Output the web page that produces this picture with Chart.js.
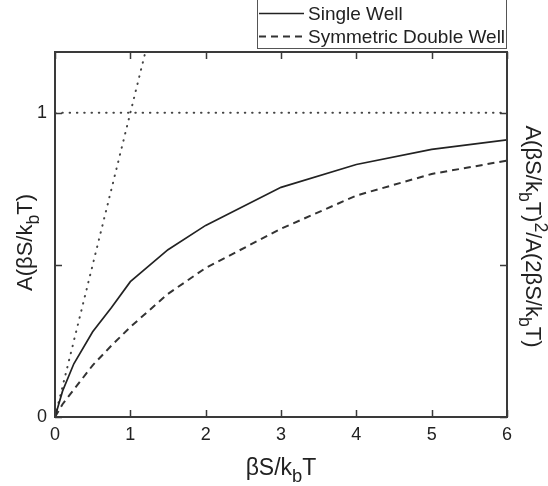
<!DOCTYPE html>
<html>
<head>
<meta charset="utf-8">
<script src="https://cdn.jsdelivr.net/npm/chart.js@4.4.1/dist/chart.umd.min.js"></script>
<style>
  html, body { margin: 0; padding: 0; background: #ffffff; }
  #wrap { width: 548px; height: 486px; }
</style>
</head>
<body>
<div id="wrap"><canvas id="c" width="548" height="486"></canvas></div>
<script>
// ---- data ----
const xValues      = [0, 0.1, 0.25, 0.5, 0.75, 1, 1.5, 2, 3, 4, 5, 6];
const singleWell   = [0, 0.085, 0.175, 0.28, 0.36, 0.445, 0.55, 0.63, 0.755, 0.83, 0.88, 0.911];
const doubleWell   = [0, 0.042, 0.09, 0.17, 0.235, 0.296, 0.405, 0.49, 0.619, 0.728, 0.799, 0.843];
const diagonalX    = [0, 1.2];
const diagonalY    = [0, 1.2];
const unityX       = [0, 6];
const unityY       = [1, 1];
const seriesLabels = ['Single Well', 'Symmetric Double Well'];
const xTicks       = [0, 1, 2, 3, 4, 5, 6];
const yTicks       = [0, 0.5, 1];
const yTickLabels  = ['0', '', '1'];
const xRange       = [0, 6];
const yRange       = [0, 1.2];

const FONT = "'Liberation Sans', Arial, sans-serif";
const INK = '#222222';

function pts(xs, ys) { return xs.map((x, i) => ({ x: x, y: ys[i] })); }

const SUB = 0.8;
function richWidth(ctx, parts, size) {
  let w = 0;
  parts.forEach(p => {
    const s = p.k ? size * SUB : size;
    ctx.font = s + 'px ' + FONT;
    w += ctx.measureText(p.t).width;
  });
  return w;
}
function drawRich(ctx, parts, size) {
  const w = richWidth(ctx, parts, size);
  let x = -w / 2;
  ctx.textBaseline = 'alphabetic';
  ctx.textAlign = 'left';
  parts.forEach(p => {
    const s = p.k ? size * SUB : size;
    ctx.font = s + 'px ' + FONT;
    let dy = 0;
    if (p.k === 'sub') dy = size * 0.3;
    if (p.k === 'sup') dy = -size * 0.42;
    ctx.fillText(p.t, x, dy);
    x += ctx.measureText(p.t).width;
  });
}

const xTitle = [{t:'\u03B2S/k'}, {t:'b', k:'sub'}, {t:'T'}];
const yTitle = [{t:'A(\u03B2S/k'}, {t:'b', k:'sub'}, {t:'T)'}];
const y2Title = [{t:'A(\u03B2S/k'}, {t:'b', k:'sub'}, {t:'T)'}, {t:'2', k:'sup'},
                 {t:'/A(2\u03B2S/k'}, {t:'b', k:'sub'}, {t:'T)'}];

const decor = {
  id: 'decor',
  afterDraw(chart) {
    const ctx = chart.ctx;
    const a = chart.chartArea;
    const xs = chart.scales.x, ys = chart.scales.y;
    ctx.save();
    // frame
    ctx.strokeStyle = '#3a3a3a';
    ctx.lineWidth = 2;
    ctx.strokeRect(a.left, a.top, a.right - a.left, a.bottom - a.top);
    // inward ticks
    ctx.lineWidth = 1.5;
    ctx.beginPath();
    xTicks.forEach(v => {
      const px = Math.round(xs.getPixelForValue(v)) + 0.5;
      ctx.moveTo(px, a.bottom); ctx.lineTo(px, a.bottom - 7);
      ctx.moveTo(px, a.top); ctx.lineTo(px, a.top + 7);
    });
    yTicks.forEach(v => {
      const py = Math.round(ys.getPixelForValue(v)) + 0.5;
      ctx.moveTo(a.left, py); ctx.lineTo(a.left + 7, py);
      ctx.moveTo(a.right, py); ctx.lineTo(a.right - 7, py);
    });
    ctx.stroke();

    // axis titles
    ctx.fillStyle = INK;
    ctx.save();
    ctx.translate((a.left + a.right) / 2, 475);
    drawRich(ctx, xTitle, 23);
    ctx.restore();

    const midY = (a.top + a.bottom) / 2;
    ctx.save();
    ctx.translate(32, midY + 8);
    ctx.rotate(-Math.PI / 2);
    drawRich(ctx, yTitle, 22);
    ctx.restore();

    ctx.save();
    ctx.translate(526, midY + 2);
    ctx.rotate(Math.PI / 2);
    drawRich(ctx, y2Title, 22);
    ctx.restore();

    // legend
    ctx.fillStyle = '#ffffff';
    ctx.fillRect(257, -1, 250, 50);
    ctx.strokeStyle = '#555555';
    ctx.lineWidth = 1;
    ctx.strokeRect(257.5, -1.5, 249, 50);
    const rows = [13.5, 36.5];
    const base = [20, 43];
    [0, 1].forEach(i => {
      const ds = chart.data.datasets[i];
      ctx.strokeStyle = ds.borderColor;
      ctx.lineWidth = ds.borderWidth;
      ctx.setLineDash(ds.borderDash || []);
      ctx.beginPath();
      ctx.moveTo(259, rows[i]); ctx.lineTo(304, rows[i]);
      ctx.stroke();
      ctx.setLineDash([]);
      ctx.fillStyle = INK;
      ctx.font = '19px ' + FONT;
      ctx.textAlign = 'left';
      ctx.textBaseline = 'alphabetic';
      ctx.fillText(ds.label, 308, base[i]);
    });
    ctx.restore();
  }
};

new Chart(document.getElementById('c'), {
  type: 'line',
  data: {
    datasets: [
      { label: seriesLabels[0], data: pts(xValues, singleWell),
        borderColor: '#222222', borderWidth: 1.7, pointRadius: 0, tension: 0, fill: false },
      { label: seriesLabels[1], data: pts(xValues, doubleWell),
        borderColor: '#333333', borderWidth: 2, borderDash: [7, 5], pointRadius: 0, tension: 0, fill: false },
      { label: 'y = x', data: pts(diagonalX, diagonalY),
        borderColor: '#444444', borderWidth: 2, borderDash: [0.5, 6.8], borderCapStyle: 'round',
        pointRadius: 0, tension: 0, fill: false },
      { label: 'y = 1', data: pts(unityX, unityY),
        borderColor: '#444444', borderWidth: 2, borderDash: [0.5, 6.8], borderCapStyle: 'round',
        pointRadius: 0, tension: 0, fill: false }
    ]
  },
  options: {
    responsive: false,
    animation: false,
    layout: { padding: 0 },
    plugins: { legend: { display: false }, tooltip: { enabled: false }, title: { display: false } },
    scales: {
      x: {
        type: 'linear', position: 'bottom', min: xRange[0], max: xRange[1],
        afterBuildTicks: s => { s.ticks = xTicks.map(v => ({ value: v })); },
        afterFit: s => { s.height = 69; },
        grid: { display: false, drawTicks: false },
        border: { display: false },
        ticks: { color: INK, padding: 7, font: { family: FONT, size: 18 }, callback: v => String(v), maxRotation: 0 }
      },
      x2: {
        type: 'linear', position: 'top', min: xRange[0], max: xRange[1],
        afterFit: s => { s.height = 52; },
        grid: { display: false, drawTicks: false },
        border: { display: false },
        ticks: { display: false }
      },
      y: {
        type: 'linear', position: 'left', min: yRange[0], max: yRange[1],
        afterBuildTicks: s => { s.ticks = yTicks.map(v => ({ value: v })); },
        afterFit: s => { s.width = 55; },
        grid: { display: false, drawTicks: false },
        border: { display: false },
        ticks: { color: INK, padding: 8, font: { family: FONT, size: 18 },
                 callback: (v) => yTickLabels[yTicks.indexOf(v)] }
      },
      y2: {
        type: 'linear', position: 'right', min: yRange[0], max: yRange[1],
        afterFit: s => { s.width = 41; },
        grid: { display: false, drawTicks: false },
        border: { display: false },
        ticks: { display: false }
      }
    }
  },
  plugins: [decor]
});
</script>
</body>
</html>
